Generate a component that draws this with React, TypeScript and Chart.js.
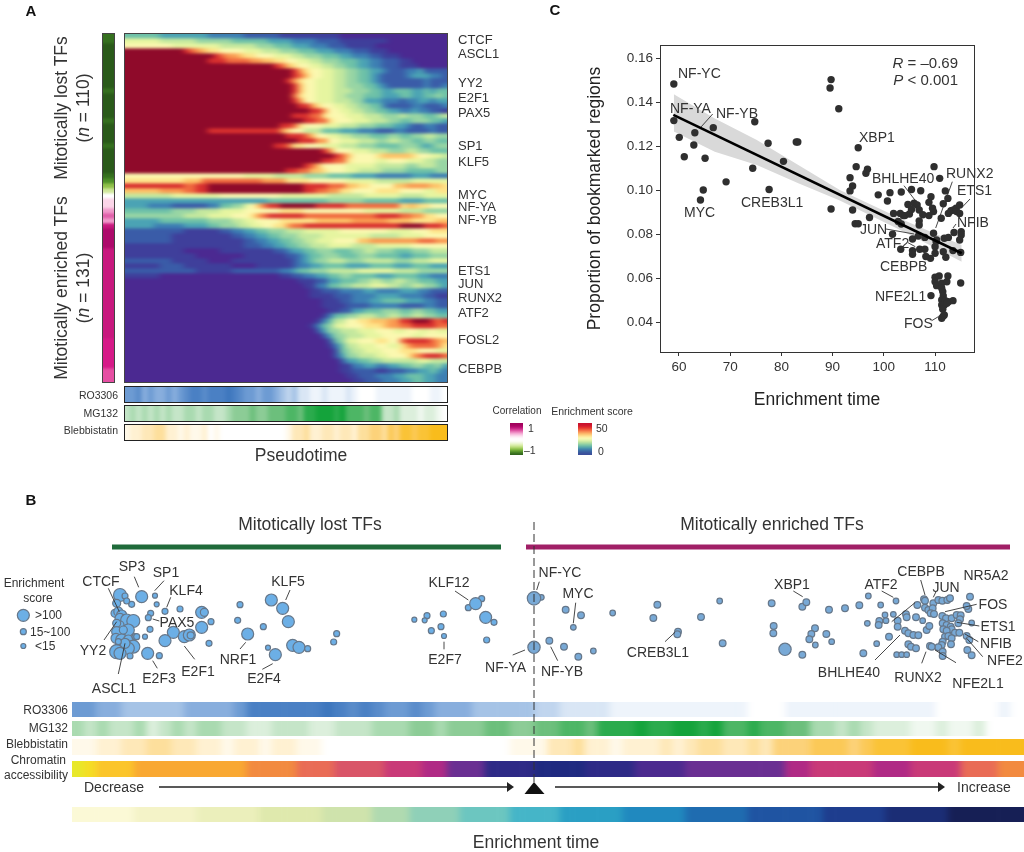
import React, { useEffect, useRef } from "react";
import { Chart, registerables } from "chart.js";

Chart.register(...registerables);
Chart.defaults.font.family = '"Liberation Sans", Arial, sans-serif';
Chart.defaults.color = "#333";

// ---------- Panel A heat map: 70 TF rows, run-length coded levels (a lowest ... p highest)
const heatPalette = ["#4b2991","#3f3f9b","#3a5ca8","#3d7fb3","#4ba3b4","#6ec1a8","#98d5a4","#c4e89e","#e6f5a0","#fbf8b0","#fee48a","#fdc268","#f99a51","#f06a3f","#d8302f","#8f0a2a"];
const pseudotimeRows = [
"f6e8d6c6b10a18","i6h6g6f6e4d4c4b8a10","j8i8h6g3f3e3d3c3b5a12",
"p10o1n1m1l1k2j4i3h3g3f3e3d3c3b3a10","p15o1n1m2l1k2j3i3h2g3f3e2d3c2b3a8","p14o3n4m2l2k2j2i2h2g3f3e2d2c3b2a7",
"p25o1n1l1k1j2i2h2g2f2e2d2c3b3a5","p28o1m1k1j2i2h2g2f2e2d1c3d2e1c4","p28o1n1l1j2i2h2g2f2e1d1c4d1e3d2c1",
"p27o1m1k1j2i3h2g2f2e1d1c7d1c3","p28o1l1j2i3h2g3f2e1d1c6d1c2d1","p28o1l1j2i3h3g3f2e2f3e2f1e1f1",
"p28n1k1j2i3h2g3f3e3f2e2f2g1f1","p28o1m1j2i3h3g2e3d3c1d2e2d1e2","p29o2m1k1j2i2h2g2f2d1c4d2c1c2d1",
"p31o2m1j2i2h2g2f2e2d2e1d2c2b1","p28o3n2k1j3i3h3g3h1g3f2g1h1","p30o2n2k1j3i3h3g2f2g3f2e1",
"p26o2n1k1j3i3h3g3f3e2d1c2d2c2","p14o12m1k1j2h3f3e3d3c3d2c4d1c2","p27o3n1l1j2i2h2g3f3g2f2g2h2g2",
"p29o3m2j2i3h3g2h2g2f2g2f2","p25o2n1k2j3i3h3g3f4g3f1e1f1g2","p33o1m1j3i3h3g3h2g2f3",
"p35o1n1l1j4k1l5k1j2i2h1","p33o2n2k1j4i2j3i3h2g2","p30o1n1l1j4i5h5g2h3g2",
"p27o2n2l2k1j3i2h4g4f5g2","j20i5h5g4f4e4d6e3d3","k10l3n10m4k4j6i5h6i6",
"o10n2o2p16o4n3l2k2j4l2m4l2k1","l6m4n2o2p16o2n2m2k2j4k4j4i2k2","h8i8j10i8h6i6h4i4",
"e24f10g6f6e4f4","e4d4c6d2f2g2i1j1l1n1o2p6o5n9k1l2k2j3","f8g4h4i4j6k4j10i6h4g4",
"g10h4i4j3k1m1n1o6n12o4n2m2k2j2","e6f8g4h2i2j4k6l6m6l4k4l2","e5d5e4f2g3h2i2j2k2m1n2o16p4o3n1",
"c10b6c2d2e2f2g3h3i6j8i4j3k3","c8b10c2d2e2f2g3h4i8h5i4j4","c8b12c2d2e2f2g2h2i3j4l2m8n3m2",
"b20c3d2e2f2g2h3i4h4i6j6","b10a6b9c2d1e2f2g3f3g2h2g3f3g3h3","b12a8b7c2d1e1f2g3f3g3f4e2f3g3",
"c8b6a4b10c1d1e1f1g2h3g3h5g3h3i3","b6c4b8a4b6c1d2e2f2f2e4f4e3f3e3","c12b6c8d2e1f2g3h5i6h4g3g2",
"b6a20b2c2d2e2f2g2f4e3f4e2d3","a29b3c2e2f3g2h2g2h2g2f3e2","a30b2d2f2g2h3i3h2g2h2g2f1e1",
"a31b2c3d4e2d4e3d2c3","a31b4c3d4e4d4c2b2","a33b3c2d3e2f4e3d2c2",
"a33b4c4d5c4d2c2","a34b2c2e2f3g3f2g2f2e2","a33b1d1f2g2h3g2h2g2h2g2f2",
"a32b1d1f1h2j2k2l3m2o2p3o1n1o1","a31b1d1f1g1i2j3k3l1m2n2o4n2","a32c1e1g2h3i3j3i2j2i2j1i2",
"a33c1e1g2h3i3j5i2j4k2j2","a34c1f1g1i2j3k2j2n1o4n1m1l1","a34b1d1f1h2i3j2i2k1m1n4m1k1",
"a35c1f1g1h2i3j3k3j3i2","a35c1e1g2h3i2j3k1m1n1o3n1","a36c1e2f2g2h3h3i2h3",
"a36b2d2e2d2e2f2g2f2g1e1","a36b2c4b2c3d2e2f1e1d1","a37b2c3d3e2f3e2d2","a38b2c3d3e2f2e2d2",
];

// Correlation side strip, one level per heat-map row
const correlationPalette = ["#2a5a1a","#35701f","#4d8f28","#8fc04a","#cfe79a","#ffffff","#fbd5e8","#f09acb","#e060aa","#c8187e","#ad0a6b","#d61a88","#e64fa3"];
const correlationRuns = "b2a9b1a5b1a4b1a5b1c1d1e1f1g2h1i1h1j1k4j18l6m3";

// Drug response strips
const bluePalette = ["#ffffff","#eef4fb","#d9e6f5","#c0d5ee","#a5c3e6","#88aedd","#6d9bd3","#5a8cca","#4a80c4","#3d76bd"];
const greenPalette = ["#ffffff","#f0f8f0","#dcefdc","#c5e5c8","#a9dab0","#8ccc96","#6cbf7c","#4db665","#2bab4d","#14a33b"];
const amberPalette = ["#ffffff","#fff9ea","#fff1d2","#fee8b8","#fddf9c","#fcd27a","#fbc957","#fac336","#f9bc1c","#f8b90f"];
const ro3306Pseudotime = "g2h1f1g1f2g1f1g1h1i2h1i3j1i1h1g2f1g2f1e1d1e1c2b2c1b3c1b1a3b6a3b2a3";
const mg132Pseudotime = "d1e1d1e1d1e1d1e1d2e2d1e2d2e1f3g1f2g3h2g1i2j3i1j1h3g1h2d2e1c1c2b1c2b1a3";
const blebbistatinPseudotime = "b1c2d2e2c2b1c1b2c1a1b1a11b1d2e1c2d2c1d2c1e2f2e1g1f1h2g1h2i3h1i2";
const ro3306Enrichment = "g2f2e5f4g1i6j1i1h1i1h1g2h1g1f3e5d2c2c2b2b9a3b12a5b1a2";
const mg132Enrichment = "e1d1e1d2e1c1d1e1d1e2d2c2d3c2d3e3f2e1f3g2f2g2h2g1i3j1i2j2i1j1h2i1h2g2e2d1e1d1c3b2c1b2c1a3";
const blebbistatinEnrichment = "b2c2d2e2d2c2b1c2b1c2b2a15b3d2e1c2b1c2c1d1c1d1e2d2e1d1f3g3f1g1h3i3h1i3i3";
const chromatinPalette = ["#1f2a80","#2e2a86","#4c2a8f","#6a2f92","#8a2a8e","#b02a85","#c93a78","#d95568","#e96c56","#f28a40","#f9a832","#fbc52b","#f5dd25","#e8e82a"];
const chromatinRuns = "n1m1l3k9j4i3h4g3f2d3b4a4b4c4d8f2g5f3g4i3j2";
const enrichmentTimePalette = ["#fbf9d6","#f4f3c8","#ebefbb","#dfe9ad","#cfe3ac","#b0dab0","#8fd0b8","#6cc6c0","#45b5c8","#2a9fc4","#2089bf","#1f6cb0","#1f54a2","#1e3d8e","#1b2d75","#161f55"];
const enrichmentTimeRuns = "a5b5c5d5e4f3g4h4i4j5k5l5m6n5o5p6";
const corrLegendPalette = ["#a0005a","#c0107a","#e050a0","#f5a0d0","#fde0ef","#ffffff","#ffffff","#eaf5c8","#c8e68a","#8cc040","#4d8f28","#2a5a1a"];
const scoreLegendPalette = ["#c8102e","#e8312a","#f46d43","#fdae61","#fee08b","#ffffbf","#d4ec9c","#98d5a4","#5fb4a8","#3d82b0","#3a5ca0","#3a4a98"];
const legendRuns = "a1b1c1d1e1f1g1h1i1j1k1l1";

// ---------- Panel C scatter
const enrichTime = [59.0,59.0,60.06,61.04,63.1,62.9,66.7,65.1,64.75,64.2,69.2,74.8,77.4,74.4,77.6,80.4,82.9,83.2,89.7,89.5,91.2,95.0,94.6,96.8,96.5,93.4,93.9,93.4,89.7,93.9,97.2,94.4,95.0,98.9,101.2,100.7,103.4,105.4,107.2,109.8,110.9,112.0,112.5,111.6,109.2,108.8,104.7,105.9,106.5,106.9,105.4,101.9,103.2,103.8,104.1,105.0,107.6,108.8,109.7,109.5,111.2,112.6,113.1,113.6,114.1,114.8,114.2,114.8,102.8,103.4,106.9,106.9,101.7,105.6,106.7,108.0,109.7,110.3,111.8,112.6,113.7,115.1,115.1,114.8,103.3,105.6,105.6,107.0,108.0,108.2,109.1,110.0,110.0,110.2,111.6,112.1,113.5,115.0,110.0,110.8,112.5,110.0,110.3,111.3,112.3,115.0,111.3,111.5,109.2,111.6,111.3,112.0,112.6,113.5,111.3,111.8,112.3,111.5,111.6,111.3,111.8];
const bookmarked = [.1483,.1317,.1241,.1153,.1262,.1206,.1285,.1146,.1002,.0957,.1039,.1312,.1214,.1101,.1004,.1132,.1220,.1220,.1503,.1465,.1371,.1194,.1108,.1096,.1078,.1058,.1020,.0998,.0916,.0911,.0877,.0849,.0849,.0980,.0990,.0952,.0993,.1004,.0999,.1108,.1055,.0998,.0964,.0940,.0972,.0946,.0936,.0942,.0934,.0911,.0914,.0896,.0896,.0886,.0886,.0893,.0890,.0886,.0904,.0919,.0874,.0896,.0908,.0911,.0919,.0934,.0904,.0896,.0859,.0848,.0862,.0843,.0801,.0780,.0793,.0787,.0806,.0775,.0783,.0787,.0809,.0813,.0798,.0775,.0733,.0727,.0710,.0733,.0733,.0700,.0692,.0715,.0745,.0768,.0722,.0697,.0727,.0719,.0606,.0612,.0612,.0586,.0568,.0579,.0586,.0580,.0556,.0541,.0523,.0521,.0503,.0500,.0495,.0500,.0480,.0480,.0488,.0461,.0430,.0420,.0435];
const fitTime = [58.9,115.2];
const fitValue = [.1343,.0715];
const bandTime = [59,67,75.2,83.3,91.4,104.5,115.2];
const bandUpper = [.1436,.1327,.1229,.1116,.1002,.0859,.0753];
const bandLower = [.1267,.1176,.1116,.1033,.0954,.0806,.0677];
const xTickStep = 10;
const yTickStep = 0.02;

// ---------- Panel B bubbles: [enrichment position, vertical jitter, radius]
const lostBubbles = [
[360,255,6.5],[375,258,3],[395,283,3],[380,273,3],[350,280,4],[345,310,4],[355,305,4.5],[365,315,5],[360,325,5],[380,330,6],[400,333,6.5],[360,345,4],[350,340,4],[385,360,6],[350,365,5],[348,385,5],[365,390,6],[385,390,5],[405,380,3],[400,410,6.5],[360,415,6],[385,415,6],[350,425,7],[360,430,6],[390,438,3],[375,400,5],[410,380,3],[370,360,4],[355,395,3],
[425,260,6],[465,257,2.5],[470,283,2.5],[495,304,3],[540,297,3],[452,310,3],[445,323,3],[450,358,3],[435,380,2.5],[605,307,6],[613,307,4],[633,335,3],[605,352,6],[520,367,6],[495,392,6],[553,380,6],[568,375,6],[572,376,3.5],[443,430,6],[478,437,3],[627,400,3],
[720,284,3],[713,331,3],[743,372,6],[790,350,3],[814,270,6],[848,295,6],[865,335,6],[804,413,2.5],[826,434,6],[878,406,6],[897,412,6],[923,416,3],[1010,371,3],[1001,396,3],
[1243,329,2.5],[1281,317,3],[1274,331,2.5],[1330,312,3],[1323,350,3],[1294,362,3],[1332,378,2.5],[1405,293,3],[1445,266,3],[1427,281,6],[1457,322,6],[1482,337,3],[1460,390,3],
];
const enrichedBubbles = [
[1624,262,2.5],[1602,265,6],[1602,412,5.5],[1648,392,3],[1692,410,3],[1735,440,3],[1780,423,2.5],[1697,299,3],[1743,316,3],[1720,352,2.5],[1838,309,2.5],[1972,284,3],[1960,324,3],[2034,365,3],[2032,373,3],[2103,321,3],[2168,400,3],[2159,273,2.5],[2315,280,3],[2407,290,3],[2419,277,3],[2321,348,3],[2320,370,3],[2355,418,5.5],[2407,434,3],[2445,355,3],[2434,372,3],[2428,388,3],[2446,405,2.5],[2479,372,3],[2495,395,2.5],[2487,299,3],[2535,295,3],[2578,286,3],[2605,258,2.5],[2642,285,2.5],[2688,273,2.5],[2590,430,3],[2602,340,2.5],[2630,401,2.5],[2638,333,3],[2636,345,3],[2655,315,2.5],[2658,332,2.5],[2680,313,2.5],[2667,380,3],[2693,332,3],[2693,350,3],[2718,313,3],[2720,322,3],[2748,322,3],[2768,332,2.5],[2752,285,3],[2772,268,3],[2775,272,3],[2775,293,3],[2785,300,3],[2800,280,3],[2798,295,3],[2792,310,3],[2802,312,3],[2815,270,3],[2827,272,3],[2842,270,3],[2850,265,3],[2910,260,3],[2905,297,3],[2900,288,3],[2827,318,3],[2838,325,3],[2855,325,3],[2870,315,3],[2882,316,3],[2880,328,3],[2875,340,3],[2915,339,2.5],[2828,340,3],[2840,345,3],[2830,358,3],[2852,350,3],[2855,358,3],[2840,362,3],[2865,368,3],[2878,368,3],[2900,378,3],[2908,390,3],[2835,380,3],[2845,378,3],[2855,385,3],[2853,403,3],[2828,395,3],[2825,405,3],[2815,412,3],[2828,425,3],[2828,438,3],[2902,420,3],[2915,436,3],[2790,408,3],[2795,410,3],[2780,360,3],[2788,348,3],[2715,362,3],[2725,370,3],[2740,375,3],[2755,376,3],[2725,403,3],[2733,410,3],[2748,415,3],[2690,434,2.5],[2705,434,2.5],[2720,434,2.5],
];
const sizeLegendBubbles = [[70,316,6],[70,365,3],[70,408,2.5]];

// ---------- Texts
const font = '"Liberation Sans", Arial, sans-serif';
type L = [string, number, number, number?, string?];
const heatLabels: L[] = [["CTCF",458,39],["ASCL1",458,52.5],["YY2",458,82],["E2F1",458,96.5],["PAX5",458,112],["SP1",458,145],["KLF5",458,161],["MYC",458,194],["NF-YA",458,206],["NF-YB",458,219],["ETS1",458,270],["JUN",458,283],["RUNX2",458,297],["ATF2",458,312],["FOSL2",458,339],["CEBPB",458,368]];
const scatterLabels: L[] = [["NF-YC",678,73],["NF-YA",670,108],["NF-YB",716,113],["XBP1",859,137],["BHLHE40",872,178],["RUNX2",946,173],["ETS1",957,190],["NFIB",957,222],["JUN",860,229],["ATF2",876,243],["CEBPB",880,266],["NFE2L1",875,296],["FOS",904,323],["MYC",684,212],["CREB3L1",741,202]];
const bubbleLabels: L[] = [["SP3",132,566],["SP1",166,572],["CTCF",101,581],["KLF4",186,590],["PAX5",177,622],["KLF5",288,581],["KLF12",449,582],["YY2",93,650],["NRF1",238,659],["E2F3",159,678],["E2F1",198,671],["E2F4",264,678],["ASCL1",114,688],["E2F7",445,659],["NF-YA",505.5,667],["NF-YC",560,572],["MYC",578,593],["NF-YB",562,671],["CREB3L1",658,652],["XBP1",792,584],["ATF2",881,584],["CEBPB",921,571],["NR5A2",986,575],["JUN",946,587],["FOS",993,604],["ETS1",998,626],["NFIB",996,643],["NFE2",1005,660],["BHLHE40",849,672],["RUNX2",918,677],["NFE2L1",978,683]];
const leaders: number[][] = [
[712.7,114,701,127],[904,185.7,920,206.7],[952.3,181.7,935.7,228],[970,199,961.7,207.7],[956,224,953,228],[886,229,914,234],[908,242.7,915.3,246.7],[931.7,320.7,938.3,316.7],
[134.3,576.7,138.7,587.3],[164,580.7,154.7,590.7],[108.3,588.3,119.3,611.7],[170.7,597.3,166.7,607.3],[159.3,621,152.7,619],[290,590,285.7,600],[455,591,468.3,600],[104,640,116.7,621.7],[240,649,245.7,642.3],[157.3,668.3,152.7,660.7],[194.7,659.3,184.3,646],[262.3,669.3,272.7,663.7],[118.3,674,125,643.3],[444,649.3,444,641.7],[512.7,655,525,650],
[539.3,581.7,536.7,590],[575.7,602.7,573.3,623.3],[557.7,660.7,550.7,646.7],[665,641.7,675,632.3],[793.3,591,802.7,596.7],[881.7,591,893.3,597.3],[920.7,580,925,595],[936,591.7,933.3,597.3],[976.7,604.3,945,611.7],[979.3,626,956.7,622.3],[978.3,641.7,965,634],[982.7,656.7,966.7,638.3],[875,660,900,635],[891.7,621.7,915,602.7],[921.7,663.3,926,651.7],[956,662.7,935,650],
];

function decodeRuns(s: string): number[] {
  const out: number[] = [];
  for (const m of s.matchAll(/([a-p])(\d+)/g)) {
    for (let i = 0; i < +m[2]; i++) out.push(m[1].charCodeAt(0) - 97);
  }
  return out;
}

type HeatProps = { x: number; y: number; w: number; h: number; rows: string[]; cols?: number; vertical?: boolean; palette: string[]; bx?: number; by?: number; frame?: string };

function Heat({ x, y, w, h, rows, cols, vertical, palette, bx = 0, by = 0, frame }: HeatProps) {
  const ref = useRef<HTMLCanvasElement>(null);
  let base = rows.map(decodeRuns);
  if (vertical) base = base[0].map((v) => [v]);
  const n = cols ?? base[0].length;
  const cw = w / n;
  const rh = h / base.length;
  // edge cells repeat beyond the clip so the soft filter does not fade at the borders
  const padC = bx > 0 ? Math.ceil((bx * 3) / cw) : 0;
  const padR = by > 0 ? Math.ceil((by * 3) / rh) : 0;
  const cw2 = Math.round(w + 2 * padC * cw);
  const ch2 = Math.round(h + 2 * padR * rh);
  useEffect(() => {
    const fitted = base.map((r) => {
      const c = r.slice(0, n);
      while (c.length < n) c.push(c[c.length - 1]);
      const first = c[0];
      const last = c[n - 1];
      return [...Array(padC).fill(first), ...c, ...Array(padC).fill(last)];
    });
    const matrix = [...Array(padR).fill(fitted[0]), ...fitted, ...Array(padR).fill(fitted[fitted.length - 1])];
    const chart = new Chart(ref.current!, {
      type: "bar",
      data: {
        labels: matrix[0].map((_: number, i: number) => String(i)),
        datasets: matrix.map((r: number[], ri: number) => ({
          data: r.map(() => [ri, ri + 1]),
          backgroundColor: r.map((v) => palette[v]),
          borderWidth: 0,
          grouped: false,
          barPercentage: 1,
          categoryPercentage: 1,
        })),
      } as any,
      options: {
        animation: false,
        responsive: false,
        devicePixelRatio: 1,
        layout: { padding: 0 },
        plugins: { legend: { display: false }, tooltip: { enabled: false } },
        scales: {
          x: { display: false },
          y: { display: false, min: 0, max: matrix.length, reverse: true },
        },
      },
    });
    return () => chart.destroy();
  }, []);
  const fid = bx || by ? `soft-${bx}-${by}`.replace(/\./g, "_") : "";
  return (
    <div style={{ position: "absolute", left: x, top: y, width: w, height: h, overflow: "hidden" }}>
      <svg width={0} height={0} style={{ position: "absolute" }}>
        {fid ? <filter id={fid} x="-5%" y="-5%" width="110%" height="110%" colorInterpolationFilters="sRGB"><feGaussianBlur stdDeviation={`${bx || 0.01} ${by || 0.01}`} /></filter> : null}
      </svg>
      <canvas ref={ref} width={cw2} height={ch2} style={{ position: "absolute", left: -padC * cw, top: -padR * rh, width: cw2, height: ch2, filter: fid ? `url(#${fid})` : undefined }} />
      {frame ? <div style={{ position: "absolute", inset: 0, border: `1px solid ${frame}`, boxSizing: "border-box" }} /> : null}
    </div>
  );
}

const framePlugin = {
  id: "frame",
  afterDraw(c: any) {
    const a = c.chartArea;
    c.ctx.save();
    c.ctx.strokeStyle = "#333";
    c.ctx.lineWidth = 1;
    c.ctx.strokeRect(a.left + 0.5, a.top + 0.5, a.right - a.left, a.bottom - a.top);
    c.ctx.restore();
  },
};

function Scatter() {
  const ref = useRef<HTMLCanvasElement>(null);
  useEffect(() => {
    const tickFont = { size: 13.5 };
    const chart = new Chart(ref.current!, {
      type: "scatter",
      data: {
        datasets: [
          { data: fitTime.map((x, i) => ({ x, y: fitValue[i] })), showLine: true, borderColor: "#000", borderWidth: 2.6, pointRadius: 0, order: 0 },
          { data: enrichTime.map((x, i) => ({ x, y: bookmarked[i] })), backgroundColor: "#2f2f2f", borderWidth: 0, pointRadius: 3.7, order: 1 },
          { data: bandTime.map((x, i) => ({ x, y: bandUpper[i] })), showLine: true, borderWidth: 0, pointRadius: 0, fill: "+1", backgroundColor: "#d9d9d9", borderColor: "transparent", order: 2 },
          { data: bandTime.map((x, i) => ({ x, y: bandLower[i] })), showLine: true, borderWidth: 0, pointRadius: 0, borderColor: "transparent", order: 3 },
        ],
      } as any,
      options: {
        animation: false,
        responsive: false,
        devicePixelRatio: 1,
        layout: { padding: { left: 0, top: 15, right: 16, bottom: 0 } },
        plugins: { legend: { display: false }, tooltip: { enabled: false } },
        scales: {
          x: {
            type: "linear", min: 56.3, max: 117.6,
            grid: { drawOnChartArea: false, color: "#333", tickLength: 4 },
            border: { color: "#333" },
            ticks: { stepSize: xTickStep, includeBounds: false, font: tickFont, color: "#333", maxRotation: 0, padding: 3 },
            title: { display: true, text: "Enrichment time", font: { size: 17.5 }, color: "#222", padding: { top: 0, bottom: 9.5 } },
            afterFit: (s: any) => { s.height = 68; },
          },
          y: {
            type: "linear", min: 0.0267, max: 0.166,
            grid: { drawOnChartArea: false, color: "#333", tickLength: 4 },
            border: { color: "#333" },
            ticks: { stepSize: yTickStep, includeBounds: false, font: tickFont, color: "#333", padding: 3, callback: (v: any) => Number(v).toFixed(2) },
            title: { display: true, text: "Proportion of bookmarked regions", font: { size: 17.5 }, color: "#222", padding: { top: 14.5, bottom: 0 } },
            afterFit: (s: any) => { s.width = 90; },
          },
        },
      } as any,
      plugins: [framePlugin],
    });
    return () => chart.destroy();
  }, []);
  return <canvas ref={ref} width={420} height={390} style={{ position: "absolute", left: 570, top: 30 }} />;
}

function Bubbles() {
  const ref = useRef<HTMLCanvasElement>(null);
  useEffect(() => {
    const toPts = (a: number[][], k = 1) => a.map(([x, y, r]) => ({ x, y, r: r * k }));
    const base = { borderColor: "#66778a", borderWidth: 1.2, clip: false };
    const chart = new Chart(ref.current!, {
      type: "bubble",
      data: {
        datasets: [
          { ...base, data: toPts(lostBubbles), backgroundColor: "#6cafe6" },
          { ...base, data: toPts(enrichedBubbles, 1.12), backgroundColor: "#78a9d6" },
          { ...base, data: toPts(sizeLegendBubbles), backgroundColor: "#6cafe6" },
        ],
      } as any,
      options: {
        animation: false,
        responsive: false,
        devicePixelRatio: 1,
        layout: { padding: 0, autoPadding: false },
        plugins: { legend: { display: false }, tooltip: { enabled: false } },
        scales: {
          x: { display: false, type: "linear", min: 0, max: 3072 },
          y: { display: false, type: "linear", min: 0, max: 570, reverse: true },
        },
      },
    });
    return () => chart.destroy();
  }, []);
  return <canvas ref={ref} width={1024} height={190} style={{ position: "absolute", left: 0, top: 510 }} />;
}

const Txt = ({ x, y, s = 14, a = "c", c = "#333", rot, children, bold, ls }: any) => (
  <div style={{
    position: "absolute", left: x, top: y, fontFamily: font, fontSize: s, color: c, whiteSpace: "nowrap", lineHeight: 1, fontWeight: bold ? 700 : 400, letterSpacing: ls,
    transform: `translate(${a === "l" ? "0" : a === "r" ? "-100%" : "-50%"}, -50%)` + (rot ? ` rotate(${rot}deg)` : ""),
  }}>{children}</div>
);

export default function App() {
  const bandStrip = (x: number, y: number, w: number, h: number, runs: string, palette: string[], cols: number, frame?: string) => (
    <Heat x={x} y={y} w={w} h={h} rows={[runs]} cols={cols} palette={palette} bx={cols > 60 ? 3.5 : 2.2} frame={frame} />
  );
  return (
    <div style={{ position: "absolute", left: 0, top: 0, width: 1024, height: 852, background: "#fff", overflow: "hidden" }}>
      {/* Panel A */}
      <Heat x={124} y={33} w={324} h={350} rows={pseudotimeRows} cols={54} palette={heatPalette} bx={3.2} by={1.4} frame="#444" />
      <Heat x={102} y={33} w={13} h={350} rows={[correlationRuns]} vertical palette={correlationPalette} by={1.2} frame="#444" />
      {bandStrip(124, 386, 324, 17, ro3306Pseudotime, bluePalette, 54, "#222")}
      {bandStrip(124, 405, 324, 17, mg132Pseudotime, greenPalette, 54, "#222")}
      {bandStrip(124, 424, 324, 17, blebbistatinPseudotime, amberPalette, 54, "#222")}
      <Heat x={510} y={423} w={13} h={32} rows={[legendRuns]} vertical palette={corrLegendPalette} by={1.5} />
      <Heat x={578} y={423} w={14} h={32} rows={[legendRuns]} vertical palette={scoreLegendPalette} by={1.5} />

      {/* Panel C */}
      <Scatter />

      {/* Panel B strips */}
      {bandStrip(72, 702, 952, 15, ro3306Enrichment, bluePalette, 76)}
      {bandStrip(72, 721, 952, 15, mg132Enrichment, greenPalette, 76)}
      {bandStrip(72, 739, 952, 16, blebbistatinEnrichment, amberPalette, 76)}
      {bandStrip(72, 761, 952, 16, chromatinRuns, chromatinPalette, 76)}
      {bandStrip(72, 807, 952, 15, enrichmentTimeRuns, enrichmentTimePalette, 76)}
      <Bubbles />

      {/* Annotation lines */}
      <svg width={1024} height={852} style={{ position: "absolute", left: 0, top: 0 }}>
        {leaders.map((l, i) => <line key={i} x1={l[0]} y1={l[1]} x2={l[2]} y2={l[3]} stroke="#333" strokeWidth={0.9} />)}
        <rect x={112} y={544.5} width={389} height={5} fill="#1f6b3a" />
        <rect x={526} y={544.5} width={484} height={5} fill="#a01f66" />
        <line x1={534} y1={522} x2={534} y2={783} stroke="#333" strokeWidth={1} strokeDasharray="8 4" />
        <polygon points="534,782 524.5,794 544.5,794" fill="#111" />
        <line x1={159} y1={787} x2={510} y2={787} stroke="#222" strokeWidth={1.4} />
        <polygon points="514,787 507,782 507,792" fill="#222" />
        <line x1={555} y1={787} x2={940} y2={787} stroke="#222" strokeWidth={1.4} />
        <polygon points="945,787 938,782 938,792" fill="#222" />
      </svg>

      {/* Panel letters */}
      <Txt x={31} y={10} s={15} bold c="#111">A</Txt>
      <Txt x={31} y={499} s={15} bold c="#111">B</Txt>
      <Txt x={555} y={9} s={15} bold c="#111">C</Txt>

      {/* Panel A texts */}
      <Txt x={62} y={108} s={17.5} rot={-90}>Mitotically lost TFs</Txt>
      <Txt x={84} y={108} s={17.5} rot={-90}>(<i>n</i> = 110)</Txt>
      <Txt x={62} y={288} s={17.5} rot={-90}>Mitotically enriched TFs</Txt>
      <Txt x={84} y={288} s={17.5} rot={-90}>(<i>n</i> = 131)</Txt>
      {heatLabels.map((l) => <Txt key={l[0]} x={l[1]} y={l[2]} s={13} a="l">{l[0]}</Txt>)}
      <Txt x={118} y={395} s={10.5} a="r">RO3306</Txt>
      <Txt x={118} y={413} s={10.5} a="r">MG132</Txt>
      <Txt x={118} y={430} s={10.5} a="r">Blebbistatin</Txt>
      <Txt x={301} y={456} s={17.5}>Pseudotime</Txt>
      <Txt x={517} y={411} s={10}>Correlation</Txt>
      <Txt x={592} y={411} s={10.5}>Enrichment score</Txt>
      <Txt x={528} y={428} s={10.5} a="l">1</Txt>
      <Txt x={524} y={450} s={10.5} a="l">–1</Txt>
      <Txt x={596} y={428} s={10.5} a="l">50</Txt>
      <Txt x={598} y={451} s={10.5} a="l">0</Txt>

      {/* Panel C texts */}
      {scatterLabels.map((l) => <Txt key={l[0]} x={l[1]} y={l[2]} s={14} a="l">{l[0]}</Txt>)}
      <Txt x={958} y={62} s={15} a="r"><i>R</i> = –0.69</Txt>
      <Txt x={958} y={79} s={15} a="r"><i>P</i> &lt; 0.001</Txt>

      {/* Panel B texts */}
      <Txt x={310} y={525} s={17.5}>Mitotically lost TFs</Txt>
      <Txt x={772} y={525} s={17.5}>Mitotically enriched TFs</Txt>
      <Txt x={34} y={583} s={12}>Enrichment</Txt>
      <Txt x={38} y={598} s={12}>score</Txt>
      <Txt x={35} y={615} s={12} a="l">&gt;100</Txt>
      <Txt x={30} y={632} s={12} a="l">15~100</Txt>
      <Txt x={35} y={646} s={12} a="l">&lt;15</Txt>
      {bubbleLabels.map((l) => <Txt key={l[0] + l[1]} x={l[1]} y={l[2]} s={14}>{l[0]}</Txt>)}
      <Txt x={68} y={710} s={12} a="r">RO3306</Txt>
      <Txt x={68} y={728} s={12} a="r">MG132</Txt>
      <Txt x={68} y={744} s={12} a="r">Blebbistatin</Txt>
      <Txt x={66} y={760} s={12} a="r">Chromatin</Txt>
      <Txt x={68} y={775} s={12} a="r">accessibility</Txt>
      <Txt x={84} y={787} s={14} a="l">Decrease</Txt>
      <Txt x={957} y={787} s={14} a="l">Increase</Txt>
      <Txt x={536} y={843} s={17.5}>Enrichment time</Txt>
    </div>
  );
}
